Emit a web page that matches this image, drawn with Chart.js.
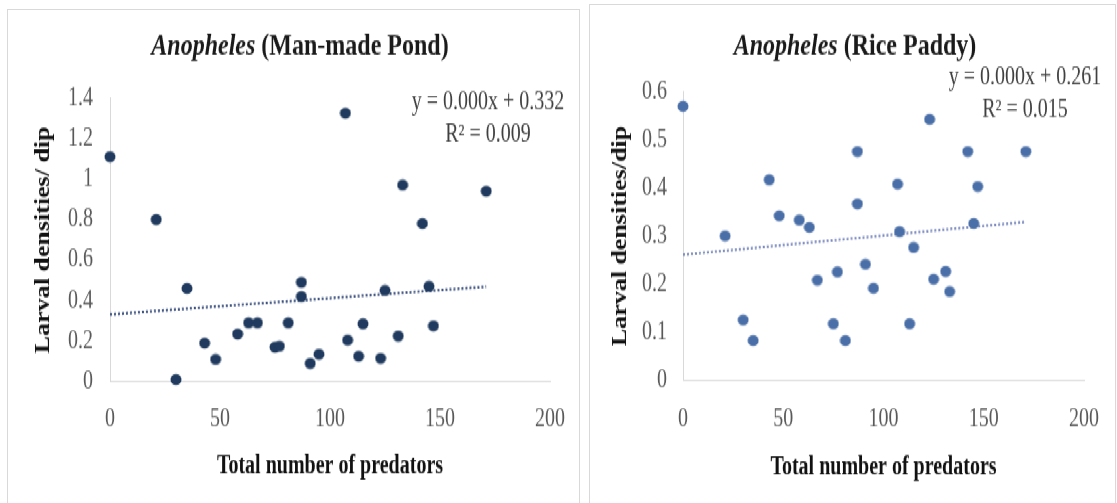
<!DOCTYPE html>
<html>
<head>
<meta charset="utf-8">
<title>Anopheles larval density vs predators</title>
<script src="https://cdn.jsdelivr.net/npm/chart.js@4.4.1/dist/chart.umd.min.js"></script>
<style>
  html, body { margin: 0; padding: 0; background: #fff; }
  body { width: 1117px; height: 503px; position: relative; overflow: hidden; }
  .frame { position: absolute; border: 1px solid #d9d9d9; box-sizing: border-box; }
  #frame-pond { left: 7px; top: 9px; width: 573px; height: 520px; }
  #frame-rice { left: 589px; top: 4px; width: 527px; height: 520px; }
  /* both charts are laid out at 1/1.3 height, then stretched to the tall serif look */
  #stage { position: absolute; left: 0; top: 0; width: 1117px; height: 387px;
           transform: scaleY(1.3); transform-origin: 0 0; }
  #stage canvas { position: absolute; top: 0; }
  #pond { left: 0; }
  #rice { left: 584px; }
</style>
</head>
<body>
<div class="frame" id="frame-pond"></div>
<div class="frame" id="frame-rice"></div>
<div id="stage">
  <canvas id="pond" width="582" height="387"></canvas>
  <canvas id="rice" width="533" height="387"></canvas>
</div>

<script>
// ──────────────────────────────────────────────
//  Data: predators per site and larvae per dip
// ──────────────────────────────────────────────
const PREDATORS = [0, 21, 30, 35, 43, 48, 58, 63, 67, 75, 77, 81, 87, 87,
                   91, 95, 107, 108, 113, 115, 123, 125, 131, 133, 142, 145, 147, 171];

const POND_LARVAE = [1.11, 0.80, 0.01, 0.46, 0.19, 0.11, 0.235, 0.29, 0.29, 0.17,
                     0.175, 0.29, 0.49, 0.42, 0.09, 0.135, 1.325, 0.205, 0.125, 0.285,
                     0.115, 0.45, 0.225, 0.97, 0.78, 0.47, 0.275, 0.94];

const PADDY_LARVAE = [0.57, 0.30, 0.125, 0.082, 0.417, 0.342, 0.333, 0.318, 0.208, 0.117,
                      0.225, 0.082, 0.476, 0.367, 0.241, 0.191, 0.408, 0.309, 0.117, 0.276,
                      0.543, 0.21, 0.226, 0.184, 0.476, 0.326, 0.403, 0.476];

const X_TICKS = [0, 50, 100, 150, 200];
const POND_Y_TICKS = [0, 0.2, 0.4, 0.6, 0.8, 1, 1.2, 1.4];
const PADDY_Y_TICKS = [0, 0.1, 0.2, 0.3, 0.4, 0.5, 0.6];

// linear trendlines
const POND_FIT = { slope: 0.0008, intercept: 0.332 };
const PADDY_FIT = { slope: 0.0004, intercept: 0.261 };
const POND_EQUATION = ['y = 0.000x + 0.332', 'R² = 0.009'];
const PADDY_EQUATION = ['y = 0.000x + 0.261', 'R² = 0.015'];

const SERIF = '"Liberation Serif", "Times New Roman", serif';

// Dots are pre-squashed so they come out round after the vertical stretch
function makeDot(color) {
    const c = document.createElement('canvas');
    c.width = 12;
    c.height = 10;
    const g = c.getContext('2d');
    g.fillStyle = color;
    g.beginPath();
    g.ellipse(6, 5, 5.5, 4.2, 0, 0, Math.PI * 2);
    g.fill();
    return c;
}

// Title (italic genus + upright habitat) and trendline equation
const panelText = {
    id: 'panelText',
    afterDraw(chart, args, opts) {
        const ctx = chart.ctx;
        ctx.save();
        ctx.textBaseline = 'middle';
        ctx.textAlign = 'left';
        ctx.fillStyle = '#1a1a1a';

        const italic = `italic bold 24px ${SERIF}`;
        const upright = `bold 24px ${SERIF}`;
        ctx.font = italic;
        const w1 = ctx.measureText(opts.genus).width;
        ctx.font = upright;
        const w2 = ctx.measureText(opts.habitat).width;
        const x0 = opts.titleX - (w1 + w2) / 2;
        ctx.font = italic;
        ctx.fillText(opts.genus, x0, opts.titleY);
        ctx.font = upright;
        ctx.fillText(opts.habitat, x0 + w1, opts.titleY);

        ctx.font = `20px ${SERIF}`;
        ctx.fillStyle = '#404040';
        ctx.textAlign = 'center';
        opts.equation.forEach((line, i) => {
            ctx.fillText(line, opts.eqX, opts.eqY + i * opts.eqGap);
        });
        ctx.restore();
    }
};

function tickLabel(v) {
    return String(+v.toFixed(1));
}

function buildChart(id, cfg) {
    const xmax = Math.max(...PREDATORS);
    const points = PREDATORS.map((x, i) => ({ x: x, y: cfg.values[i] }));
    const trend = [
        { x: 0, y: cfg.fit.intercept },
        { x: xmax, y: cfg.fit.intercept + cfg.fit.slope * xmax }
    ];

    return new Chart(document.getElementById(id), {
        type: 'scatter',
        data: {
            datasets: [{
                data: points,
                pointStyle: makeDot(cfg.color),
                pointRadius: 5,
                clip: false,
                order: 1
            }, {
                type: 'line',
                data: trend,
                borderColor: cfg.trendColor,
                borderWidth: 2,
                borderDash: [2, 2],
                pointRadius: 0,
                fill: false,
                order: 2
            }]
        },
        plugins: [panelText],
        options: {
            responsive: false,
            animation: false,
            layout: { padding: { left: 0, top: cfg.top, right: cfg.right, bottom: 0 } },
            plugins: {
                legend: { display: false },
                tooltip: { enabled: false },
                panelText: {
                    genus: 'Anopheles',
                    habitat: cfg.habitat,
                    titleX: cfg.titleX,
                    titleY: 36,
                    equation: cfg.equation,
                    eqX: cfg.eqX,
                    eqY: cfg.eqY,
                    eqGap: cfg.eqGap
                }
            },
            scales: {
                x: {
                    type: 'linear',
                    min: 0,
                    max: 200,
                    afterBuildTicks: s => { s.ticks = X_TICKS.map(v => ({ value: v })); },
                    afterFit: s => { s.height = cfg.xAxisHeight; },
                    grid: { display: false, drawTicks: false },
                    border: { display: true, color: '#d9d9d9', width: 1 },
                    ticks: {
                        color: '#595959',
                        font: { family: SERIF, size: 20 },
                        padding: cfg.xTickPad,
                        maxRotation: 0,
                        autoSkip: false
                    },
                    title: {
                        display: true,
                        text: 'Total number of predators',
                        color: '#111',
                        font: { family: SERIF, size: 20, weight: 'bold' },
                        padding: { top: 0, bottom: cfg.xTitlePad }
                    }
                },
                y: {
                    type: 'linear',
                    min: 0,
                    max: cfg.yTicks[cfg.yTicks.length - 1],
                    afterBuildTicks: s => { s.ticks = cfg.yTicks.map(v => ({ value: v })); },
                    afterFit: s => { s.width = cfg.yAxisWidth; },
                    grid: { display: false, drawTicks: false },
                    border: { display: true, color: '#d9d9d9', width: 1 },
                    ticks: {
                        color: '#595959',
                        font: { family: SERIF, size: 20 },
                        padding: cfg.yTickPad,
                        autoSkip: false,
                        callback: tickLabel
                    },
                    title: {
                        display: true,
                        text: cfg.yTitle,
                        color: '#111',
                        font: { family: SERIF, size: 20, weight: 'bold' },
                        padding: { top: cfg.yTitlePad, bottom: 0 }
                    }
                }
            }
        }
    });
}

// ──────────────────────────────────────────────
//  Man-made pond (left) and rice paddy (right)
// ──────────────────────────────────────────────
buildChart('pond', {
    values: POND_LARVAE,
    fit: POND_FIT,
    yTicks: POND_Y_TICKS,
    equation: POND_EQUATION,
    habitat: ' (Man-made Pond)',
    yTitle: 'Larval densities/ dip',
    color: '#1f3a5e',
    trendColor: '#3d5382',
    top: 75.4,
    right: 27,
    yAxisWidth: 110,
    xAxisHeight: 93.4,
    xTickPad: 17,
    xTitlePad: 16,
    yTickPad: 17,
    yTitlePad: 32,
    titleX: 300,
    eqX: 488,
    eqY: 78.5,
    eqGap: 25.3
});

buildChart('rice', {
    values: PADDY_LARVAE,
    fit: PADDY_FIT,
    yTicks: PADDY_Y_TICKS,
    equation: PADDY_EQUATION,
    habitat: ' (Rice Paddy)',
    yTitle: 'Larval densities/dip',
    color: '#4a6fa8',
    trendColor: '#7d8cc0',
    top: 70.8,
    right: 29,
    yAxisWidth: 99,
    xAxisHeight: 94.7,
    xTickPad: 18,
    xTitlePad: 15,
    yTickPad: 16,
    yTitlePad: 25,
    titleX: 271,
    eqX: 441,
    eqY: 60,
    eqGap: 24.6
});
</script>
</body>
</html>
